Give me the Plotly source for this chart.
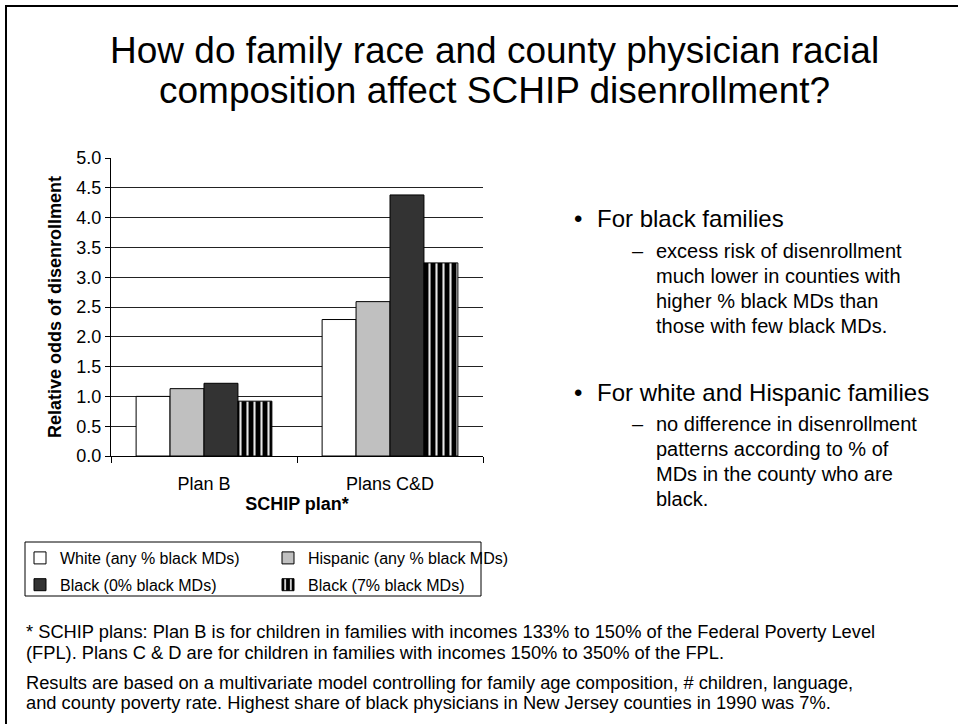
import plotly.graph_objects as go

categories = ["Plan B", "Plans C&D"]
series_names = [
    "White (any % black MDs)",
    "Hispanic (any % black MDs)",
    "Black (0% black MDs)",
    "Black (7% black MDs)",
]
white_vals = [1.00, 2.29]
hispanic_vals = [1.13, 2.59]
black0_vals = [1.22, 4.38]
black7_vals = [0.92, 3.24]
y_ticks = [0, 0.5, 1, 1.5, 2, 2.5, 3, 3.5, 4, 4.5, 5]

title_lines = ["How do family race and county physician racial",
               "composition affect SCHIP disenrollment?"]
bullet1 = "For black families"
sub1 = ["excess risk of disenrollment", "much lower in counties with",
        "higher % black MDs than", "those with few black MDs."]
bullet2 = "For white and Hispanic families"
sub2 = ["no difference in disenrollment", "patterns according to % of",
        "MDs in the county who are", "black."]
foot1 = ["* SCHIP plans: Plan B is for children in families with incomes 133% to 150% of the Federal Poverty Level",
         "(FPL). Plans C &amp; D are for children in families with incomes 150% to 350% of the FPL."]
foot2 = ["Results are based on a multivariate model controlling for family age composition, # children, language,",
         "and county poverty rate. Highest share of black physicians in New Jersey counties in 1990 was 7%."]

FONT = "Arial, Liberation Sans, sans-serif"
W, H = 958, 724
L, R, T, B = 111, 483, 158, 456  # plot area pixel box
CHART_FS = 18


def px(x):
    return (x - L) / (R - L)


def py(y):
    return (B - y) / (B - T)


fig = go.Figure()
fig.add_trace(go.Bar(x=categories, y=white_vals, name=series_names[0],
                     marker=dict(color="white", line=dict(color="black", width=1)),
                     legend="legend", legendgroup="a"))
fig.add_trace(go.Bar(x=categories, y=hispanic_vals, name=series_names[1],
                     marker=dict(color="#c0c0c0", line=dict(color="black", width=1)),
                     legend="legend2", legendgroup="b"))
fig.add_trace(go.Bar(x=categories, y=black0_vals, name=series_names[2],
                     marker=dict(color="#333333", line=dict(color="black", width=1)),
                     legend="legend", legendgroup="c"))
fig.add_trace(go.Bar(x=categories, y=black7_vals, name=series_names[3],
                     marker=dict(color="black", line=dict(color="black", width=1),
                                 pattern=dict(shape="|", fillmode="replace",
                                              bgcolor="black", fgcolor="#e8e8e8",
                                              size=7, solidity=0.3)),
                     legend="legend2", legendgroup="d"))

legend_common = dict(
    orientation="v", font=dict(family=FONT, size=16, color="black"),
    bgcolor="rgba(0,0,0,0)", borderwidth=0, tracegroupgap=3,
    xanchor="left", yanchor="top", itemclick=False, itemdoubleclick=False,
)

fig.update_layout(
    width=W, height=H,
    margin=dict(l=L, r=W - R, t=T, b=H - B, autoexpand=False),
    paper_bgcolor="white", plot_bgcolor="white",
    barmode="group", bargap=0.27, bargroupgap=0,
    font=dict(family=FONT, color="black"),
    showlegend=True,
    legend=dict(x=px(20), y=py(541), **legend_common),
    legend2=dict(x=px(268), y=py(541), **legend_common),
    xaxis=dict(
        type="category", showline=True, linecolor="black", linewidth=1,
        ticks="outside", tickson="boundaries", ticklen=6, tickcolor="black",
        tickangle=0, automargin=False, ticklabelstandoff=11,
        tickfont=dict(family=FONT, size=CHART_FS, color="black"),
        title=dict(text="<b>SCHIP plan*</b>",
                   font=dict(family=FONT, size=CHART_FS, color="black"), standoff=2),
        showgrid=False,
    ),
    yaxis=dict(
        range=[0, 5], tickvals=y_ticks, tickformat=".1f",
        showline=True, linecolor="black", linewidth=1,
        ticks="outside", ticklen=5, tickcolor="black",
        showgrid=True, gridcolor="#222222", gridwidth=1,
        zeroline=False, automargin=False,
        tickfont=dict(family=FONT, size=CHART_FS, color="black"),
        title=dict(text="<b>Relative odds of disenrollment</b>",
                   font=dict(family=FONT, size=CHART_FS, color="black"), standoff=10),
    ),
)

shapes = [
    # slide frame (top and left edges visible)
    dict(type="line", xref="paper", yref="paper", x0=px(5), x1=px(960), y0=py(6), y1=py(6),
         line=dict(color="black", width=2)),
    dict(type="line", xref="paper", yref="paper", x0=px(6), x1=px(6), y0=py(5), y1=py(726),
         line=dict(color="black", width=2)),
    # legend box
    dict(type="rect", xref="paper", yref="paper", x0=px(25), x1=px(481), y0=py(542), y1=py(596),
         line=dict(color="black", width=1), fillcolor="rgba(0,0,0,0)"),
]


def note(text, x, baseline, size, xanchor="left"):
    # place a single text line so that its baseline sits near `baseline` (pixels)
    return dict(text=text, x=px(x), y=py(baseline - 0.33 * size), xref="paper", yref="paper",
                xanchor=xanchor, yanchor="middle", align="left", showarrow=False,
                font=dict(family=FONT, size=size, color="black"))


annotations = []
# title
annotations.append(note(title_lines[0], 494, 63, 37, xanchor="center"))
annotations.append(note(title_lines[1], 494, 103, 37, xanchor="center"))
# bullets
annotations.append(note("•", 572, 226, 24))
annotations.append(note(bullet1, 595, 226, 24))
annotations.append(note("–", 630, 258, 20))
for i, t in enumerate(sub1):
    annotations.append(note(t, 654, 258 + 25 * i, 20))
annotations.append(note("•", 572, 400, 24))
annotations.append(note(bullet2, 595, 400, 24))
annotations.append(note("–", 630, 431, 20))
for i, t in enumerate(sub2):
    annotations.append(note(t, 654, 431 + 25 * i, 20))
# footnotes
for i, t in enumerate(foot1):
    annotations.append(note(t, 24, 638 + 21 * i, 18.3))
for i, t in enumerate(foot2):
    annotations.append(note(t, 24, 689 + 20 * i, 18.3))

fig.update_layout(shapes=shapes, annotations=annotations)
fig.write_html("out.html", config={"displayModeBar": False},
               post_script="document.body.style.margin='0px';")
